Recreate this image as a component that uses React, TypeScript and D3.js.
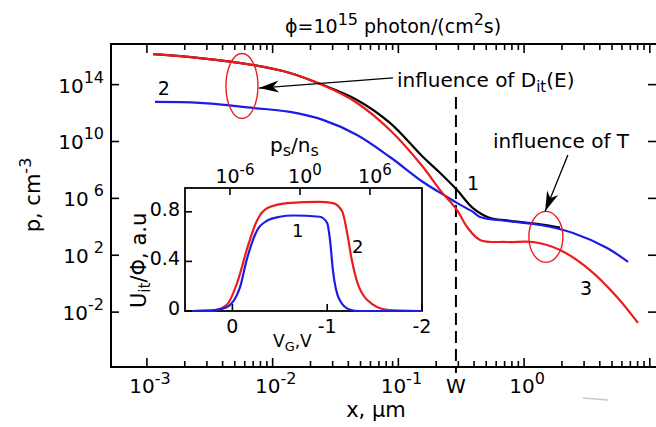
import React from 'react';
import * as d3 from 'd3';

const WIDTH = 656;
const HEIGHT = 427;
const FONT = '"DejaVu Sans", "Liberation Sans", Arial, sans-serif';
const RED = '#ec1c1c';
const BLUE = '#1c1ce6';

// main chart: x in µm, second value is log10(p, cm^-3)
const curve1: [number, number][] = [
  [0.00112, 16.15], [0.00264, 15.87], [0.00697, 15.38], [0.01374, 14.82], [0.0251, 13.97],
  [0.0469, 12.92], [0.0857, 11.31], [0.157, 8.91], [0.214, 7.8], [0.292, 6.6],
  [0.392, 5.32], [0.536, 4.62], [0.731, 4.45], [1.34, 4.18], [1.93, 3.95],
];
const curve2: [number, number][] = [
  [0.00116, 12.78], [0.00264, 12.71], [0.00697, 12.36], [0.01374, 12.08], [0.0251, 11.52],
  [0.0469, 10.46], [0.0857, 8.91], [0.157, 7.15], [0.244, 6.1], [0.292, 5.68],
  [0.392, 5.05], [0.446, 4.69], [0.731, 4.41], [1.34, 4.13], [2.45, 3.57],
  [4.57, 2.51], [6.71, 1.53],
];
const curve3: [number, number][] = [
  [0.00112, 16.15], [0.00264, 15.87], [0.00697, 15.38], [0.01374, 14.82], [0.0251, 13.97],
  [0.0469, 12.71], [0.0857, 10.81], [0.157, 8.21], [0.214, 6.6], [0.292, 5.19],
  [0.352, 3.99], [0.446, 3.08], [0.731, 2.93], [1.18, 2.93], [1.93, 2.37],
  [3.34, 0.96], [5.48, -0.93], [8.05, -2.76],
];

const X_DOMAIN = [5.18e-4, 12.05];
const Y_DOMAIN = [1.38e-6, 7.2e16];
const X_LABEL_EXPS = [-3, -2, -1, 0];
const Y_LABEL_EXPS = [14, 10, 6, 2, -2];
const W_POS = 0.287; // depletion width, µm

// inset: V_G (V) vs U_it/Φ (a.u.)
const insetBlue: [number, number][] = [
  [0.42, 0], [0.2, 0.005], [0.06, 0.03], [-0.08, 0.19], [-0.15, 0.41], [-0.26, 0.65],
  [-0.37, 0.73], [-0.5, 0.76], [-0.64, 0.77], [-0.92, 0.76], [-1.0, 0.71], [-1.03, 0.57],
  [-1.06, 0.33], [-1.13, 0.09], [-1.24, 0.01], [-1.34, 0], [-2, 0],
];
const insetRed: [number, number][] = [
  [0.42, 0], [0.2, 0.005], [0.06, 0.05], [-0.06, 0.25], [-0.15, 0.49], [-0.26, 0.73],
  [-0.37, 0.83], [-0.58, 0.87], [-0.92, 0.88], [-1.06, 0.87], [-1.16, 0.8], [-1.21, 0.63],
  [-1.26, 0.41], [-1.31, 0.25], [-1.42, 0.09], [-1.63, 0.01], [-2, 0],
];
const VG_DOMAIN = [0.5, -2];
const VG_TICKS = [0, -1, -2];
const U_TICKS = [0, 0.4, 0.8];
const PSNS_DOMAIN = [1.4e-10, 2.9e10];
const PSNS_EXPS = [-6, 0, 6];

const isPow10 = (t: number) => Math.abs(Math.log10(t) - Math.round(Math.log10(t))) < 1e-6;

export default function App() {
  const x = d3.scaleLog().domain(X_DOMAIN).range([111, 660]);
  const y = d3.scaleLog().domain(Y_DOMAIN).range([367, 44]);
  const P = (e: number) => Math.pow(10, e);

  const mainLine = d3.line<[number, number]>()
    .x(d => x(d[0]))
    .y(d => y(P(d[1])))
    .curve(d3.curveCatmullRom.alpha(0.5));

  const xTicks = x.ticks().filter(t => t >= 0.000999 && x(t) <= 660);

  // inset scales
  const ix = d3.scaleLinear().domain(VG_DOMAIN).range([185, 422]);
  const iy = d3.scaleLinear().domain([0, 1]).range([311, 187]);
  const itop = d3.scaleLog().domain(PSNS_DOMAIN).range([185, 422]);
  const insetLine = d3.line<[number, number]>()
    .x(d => ix(d[0]))
    .y(d => iy(d[1]))
    .curve(d3.curveMonotoneX);

  return (
    <svg width={WIDTH} height={HEIGHT} style={{ position: 'absolute', left: 0, top: 0, background: '#fff' }}
      fontFamily={FONT}>
      <defs>
        <marker id="arrowHead" viewBox="-22 -7 23 14" refX={0} refY={0} markerWidth={23} markerHeight={14}
          markerUnits="userSpaceOnUse" orient="auto">
          <path d="M0,0 L-20,-6 L-14,0 L-20,6 Z" fill="#000" />
        </marker>
      </defs>

      {/* title */}
      <text x={285} y={33} fontSize={19}>
        ϕ=10<tspan dy={-8} fontSize={16}>15</tspan><tspan dy={8}> photon/(cm</tspan>
        <tspan dy={-8} fontSize={16}>2</tspan><tspan dy={8}>s)</tspan>
      </text>

      {/* frame */}
      <g stroke="#000" strokeWidth={2} fill="none">
        <line x1={111} y1={43} x2={111} y2={368} />
        <line x1={110} y1={44} x2={662} y2={44} />
        <line x1={110} y1={367} x2={662} y2={367} />
        <line x1={660} y1={44} x2={660} y2={367} />
      </g>

      {/* x ticks, top and bottom */}
      <g stroke="#000" strokeWidth={1.6}>
        {xTicks.map((t, i) => {
          const len = isPow10(t) ? 9 : 6;
          return (
            <g key={i}>
              <line x1={x(t)} x2={x(t)} y1={367} y2={367 - len} />
              <line x1={x(t)} x2={x(t)} y1={44} y2={44 + len} />
            </g>
          );
        })}
        {Y_LABEL_EXPS.map(e => (
          <g key={e}>
            <line x1={111} x2={119} y1={y(P(e))} y2={y(P(e))} />
            <line x1={648} x2={660} y1={y(P(e))} y2={y(P(e))} />
          </g>
        ))}
      </g>

      {/* x tick labels */}
      {X_LABEL_EXPS.map(e => (
        <text key={e} x={x(P(e)) + 3} y={393} fontSize={20} textAnchor="middle">
          10<tspan dy={-9} fontSize={16}>{e}</tspan>
        </text>
      ))}
      <text x={x(W_POS)} y={393} fontSize={20} textAnchor="middle">W</text>

      {/* y tick labels */}
      {Y_LABEL_EXPS.map(e => (
        <text key={e} x={104} y={y(P(e)) + 8} fontSize={20} textAnchor="end">
          10<tspan dx={e > 0 && e < 10 ? 5 : 0} dy={-10} fontSize={16}>{e}</tspan>
        </text>
      ))}

      {/* axis titles */}
      <text x={376} y={417} fontSize={21} textAnchor="middle">x, µm</text>
      <text transform="translate(40,195) rotate(-90)" fontSize={21} textAnchor="middle">
        p, cm<tspan dy={-9} fontSize={16}>-3</tspan>
      </text>

      {/* W line */}
      <line x1={x(W_POS)} x2={x(W_POS)} y1={97} y2={373} stroke="#000" strokeWidth={2} strokeDasharray="12,6" />

      {/* curves */}
      <path d={mainLine(curve1) || ''} fill="none" stroke="#000" strokeWidth={2.2} />
      <path d={mainLine(curve2) || ''} fill="none" stroke={BLUE} strokeWidth={2.2} />
      <path d={mainLine(curve3) || ''} fill="none" stroke={RED} strokeWidth={2.2} />

      {/* curve labels */}
      <text x={x(0.352)} y={y(P(6.59))} fontSize={19}>1</text>
      <text x={x(0.00122)} y={y(P(13.27))} fontSize={19}>2</text>
      <text x={x(2.79)} y={y(P(-0.79))} fontSize={19}>3</text>

      {/* annotations */}
      <ellipse cx={x(0.0057)} cy={y(P(13.9))} rx={16} ry={32.5} fill="none" stroke={RED} strokeWidth={1.4} />
      <ellipse cx={x(1.49)} cy={y(P(3.29))} rx={17} ry={25.5} fill="none" stroke={RED} strokeWidth={1.4} />
      <line x1={x(0.0906)} y1={y(P(14.47))} x2={x(0.00778)} y2={y(P(13.76))} stroke="#000" strokeWidth={1.3}
        markerEnd="url(#arrowHead)" />
      <line x1={x(2.23)} y1={y(P(9.05))} x2={x(1.47)} y2={y(P(5.1))} stroke="#000" strokeWidth={1.3}
        markerEnd="url(#arrowHead)" />
      <text x={x(0.0975)} y={y(P(13.83))} fontSize={20}>
        influence of D<tspan dy={5} fontSize={15}>it</tspan><tspan dy={-5}>(E)</tspan>
      </text>
      <text x={x(0.566)} y={y(P(9.54))} fontSize={20}>influence of T</text>

      {/* inset */}
      <rect x={185} y={188} width={237} height={123} fill="#fff" stroke="#000" strokeWidth={1.8} />
      <g stroke="#000" strokeWidth={1.6}>
        {U_TICKS.map(u => <line key={u} x1={185} x2={192} y1={iy(u)} y2={iy(u)} />)}
        {VG_TICKS.map(v => <line key={v} x1={ix(v)} x2={ix(v)} y1={311} y2={304} />)}
        {PSNS_EXPS.map(e => <line key={e} x1={itop(P(e))} x2={itop(P(e))} y1={188} y2={195} />)}
      </g>
      {U_TICKS.map(u => (
        <text key={u} x={180} y={iy(u) + 4} fontSize={19} textAnchor="end">{u === 0 ? '0' : u.toFixed(1)}</text>
      ))}
      {VG_TICKS.map(v => (
        <text key={v} x={ix(v)} y={333} fontSize={19} textAnchor="middle">{v === 0 ? '0' : String(v)}</text>
      ))}
      {PSNS_EXPS.map(e => (
        <text key={e} x={itop(P(e)) + 5} y={183} fontSize={19} textAnchor="middle">
          10<tspan dy={-8} fontSize={15}>{e}</tspan>
        </text>
      ))}
      <text x={270} y={152} fontSize={20}>
        p<tspan dy={4} fontSize={16}>s</tspan><tspan dy={-4}>/n</tspan><tspan dy={4} fontSize={16}>s</tspan>
      </text>
      <text x={273} y={347} fontSize={17}>
        V<tspan dy={4} fontSize={13}>G</tspan><tspan dy={-4}>,V</tspan>
      </text>
      <text transform="translate(146,308) rotate(-90)" fontSize={21}>
        U<tspan dy={4} fontSize={15}>it</tspan><tspan dy={-4}>/Φ, a.u</tspan>
      </text>
      <path d={insetLine(insetRed) || ''} fill="none" stroke={RED} strokeWidth={2.2} />
      <path d={insetLine(insetBlue) || ''} fill="none" stroke={BLUE} strokeWidth={2.2} />
      <text x={292} y={237} fontSize={18}>1</text>
      <text x={352} y={253} fontSize={18}>2</text>

      <line x1={583} x2={608} y1={398} y2={400} stroke="#c8c8c8" strokeWidth={1.5} />
    </svg>
  );
}
